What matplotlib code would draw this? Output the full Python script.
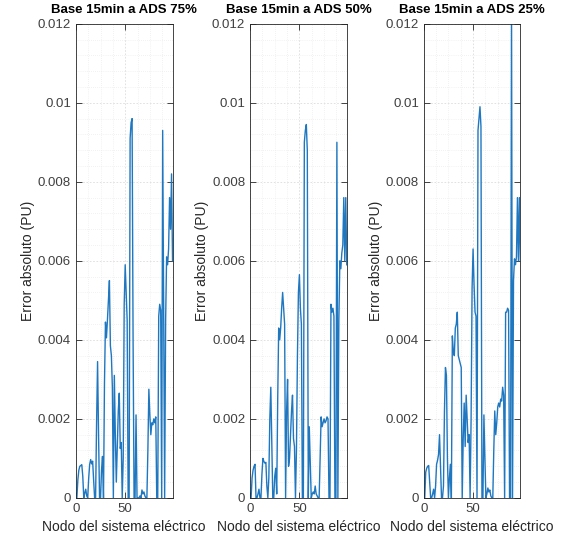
import matplotlib
matplotlib.use("Agg")
import matplotlib.pyplot as plt
import numpy as np
from matplotlib.ticker import MultipleLocator, FuncFormatter

# Nodos del sistema (1..98)
nodos = np.arange(1, 99)

# Error absoluto (x1e-3 PU)
err_75 = [0.0, 0.45, 0.7, 0.8, 0.82, 0.84, 0.55, 0.0, 0.12, 0.22,
          0.05, 0.0, 0.5, 0.85, 0.97, 0.86, 0.93, 0.45, 0.0, 0.0,
          1.9, 3.45, 1.6, 0.0, 0.0, 0.7, 1.05, 0.0, 2.9, 4.45,
          4.05, 4.5, 5.0, 5.5, 3.85, 3.6, 2.8, 0.0, 3.1, 1.6,
          0.4, 1.3, 2.2, 2.65, 1.25, 1.4, 0.0, 1.0, 4.9, 5.9,
          5.2, 4.5, 0.0, 0.0, 9.1, 9.5, 9.6, 4.0, 0.0, 0.0,
          2.1, 0.0, 0.0, 0.0, 0.05, 0.0, 0.2, 0.1, 0.15, 0.05,
          0.0, 0.0, 1.2, 2.75, 2.1, 1.6, 1.9, 1.85, 2.0, 1.9,
          2.05, 0.0, 0.0, 4.6, 4.9, 4.75, 0.0, 9.3, 4.8, 0.0,
          4.5, 6.1, 5.9, 6.3, 7.6, 6.8, 8.2, 6.0]

err_50 = [0.0, 0.5, 0.7, 0.8, 0.85, 0.0, 0.0, 0.1, 0.22, 0.0,
          0.0, 0.6, 1.0, 0.92, 0.88, 0.9, 0.3, 0.0, 0.5, 2.0,
          2.8, 1.4, 0.0, 0.0, 0.55, 0.75, 0.1, 2.5, 4.3, 4.0,
          4.3, 4.8, 5.2, 4.8, 4.4, 0.0, 2.2, 3.0, 0.8, 1.0,
          1.6, 2.2, 2.6, 1.5, 1.3, 0.0, 1.2, 3.6, 5.2, 5.65,
          4.8, 4.4, 0.0, 0.0, 9.0, 9.3, 9.45, 8.8, 0.0, 1.8,
          0.9, 0.0, 0.1, 0.15, 0.1, 0.3, 0.1, 0.05, 0.0, 0.0,
          1.0, 2.05, 1.8, 1.9, 2.0, 1.9, 1.95, 2.05, 2.0, 0.0,
          0.0, 4.9, 4.7, 4.8, 4.6, 0.0, 0.0, 9.0, 0.0, 4.5,
          6.0, 5.8, 6.2, 6.4, 7.6, 6.0, 7.6, 5.9]

err_25 = [0.0, 0.65, 0.75, 0.8, 0.82, 0.4, 0.0, 0.0, 0.1, 0.22,
          0.0, 0.3, 0.85, 0.95, 1.1, 1.6, 0.8, 0.0, 0.0, 0.3,
          2.2, 3.3, 3.1, 1.0, 0.0, 0.5, 0.85, 0.0, 4.1, 3.7,
          3.6, 4.3, 4.4, 4.7, 3.6, 3.5, 3.4, 3.3, 0.0, 1.5,
          2.4, 1.3, 2.6, 2.0, 1.4, 1.6, 0.0, 2.0, 5.3, 6.3,
          5.4, 4.7, 4.6, 0.0, 9.3, 9.6, 9.9, 9.4, 0.0, 0.0,
          2.1, 1.0, 0.0, 0.1, 0.25, 0.15, 0.2, 0.05, 0.0, 0.0,
          1.2, 2.2, 1.6, 1.9, 2.3, 2.4, 2.3, 2.5, 2.45, 2.8,
          2.6, 0.0, 4.7, 4.7, 4.8, 4.75, 0.0, 0.0, 12.3, 0.0,
          5.5, 6.05, 5.9, 6.1, 7.6, 6.0, 7.6, 6.0]

titulos = ['Base 15min a ADS 75%', 'Base 15min a ADS 50%', 'Base 15min a ADS 25%']
series = [err_75, err_50, err_25]

plt.rcParams['font.family'] = ['Liberation Sans', 'DejaVu Sans']

fig = plt.figure(figsize=(5.62, 5.40), dpi=100)
lefts = [0.135, 0.445, 0.754]

for left, titulo, datos in zip(lefts, titulos, series):
    ax = fig.add_axes([left, 0.078, 0.172, 0.878])
    ax.plot(nodos, np.array(datos) * 1e-3, color='#1f77c0', linewidth=1.0)
    ax.set_xlim(0, 98)
    ax.set_ylim(0, 0.012)
    ax.xaxis.set_major_locator(MultipleLocator(50))
    ax.xaxis.set_minor_locator(MultipleLocator(12.5))
    ax.yaxis.set_major_locator(MultipleLocator(0.002))
    ax.yaxis.set_minor_locator(MultipleLocator(0.0004))
    ax.yaxis.set_major_formatter(FuncFormatter(lambda v, p: '%g' % round(v, 4)))
    ax.grid(True, which='major', color='#dcdcdc', linewidth=0.6, linestyle=(0, (2, 2)))
    ax.grid(True, which='minor', color='#e6e6e6', linewidth=0.5, linestyle=(0, (1, 2)))
    ax.set_axisbelow(True)
    ax.tick_params(which='major', direction='in', length=4, top=True, right=True,
                   labelsize=9.5, labelcolor='#404040', color='#262626', width=0.6)
    ax.tick_params(which='minor', length=0)
    for s in ax.spines.values():
        s.set_color('#262626')
        s.set_linewidth(0.6)
    ax.set_title(titulo, fontsize=9.5, fontweight='bold', pad=8)
    ax.set_xlabel('Nodo del sistema eléctrico', fontsize=10, color='#262626')
    ax.set_ylabel('Error absoluto (PU)', fontsize=10, color='#262626', labelpad=2)

fig.savefig('out.png', dpi=100, facecolor='white')
